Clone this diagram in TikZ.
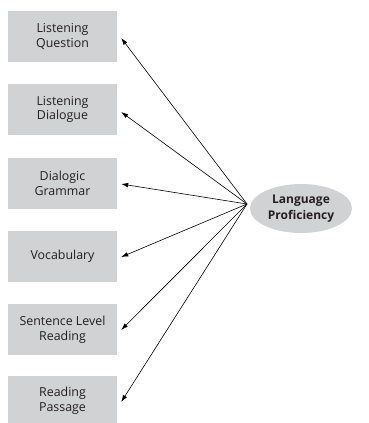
\documentclass[tikz,border=0pt]{standalone}
\usepackage{fontspec}
\setmainfont{Open Sans}
\usetikzlibrary{shapes.geometric,arrows.meta}
\definecolor{boxgray}{HTML}{D1D2D4}
\definecolor{txt}{HTML}{231F20}
\tikzset{
  indicator/.style={rectangle, fill=boxgray, minimum width=109pt, minimum height=51pt,
    inner sep=0pt, align=center, font=\fontsize{12.4}{14.8}\selectfont, text=txt},
  factor/.style={ellipse, fill=boxgray, minimum width=102pt, minimum height=49pt,
    inner sep=0pt, align=center, font=\bfseries\fontsize{12}{15.5}\selectfont, text=txt},
  loading/.style={-{Latex[length=7pt,width=4.5pt]}, line width=0.6pt, black}
}
\begin{document}
\begin{tikzpicture}[x=1pt,y=1pt]
\useasboundingbox (0,0) rectangle (368,-423);
\node[indicator] (lq) at (62.5,-36.5) {Listening\\Question};
\node[indicator] (ld) at (62.5,-109.5) {Listening\\Dialogue};
\node[indicator] (dg) at (62.5,-183.5) {Dialogic\\Grammar};
\node[indicator] (vo) at (62.5,-256.5) {Vocabulary};
\node[indicator] (sl) at (62.5,-329.5) {Sentence Level\\Reading};
\node[indicator] (rp) at (62.5,-401) {Reading\\Passage};
\node[factor] (lp) at (301,-208.5) {Language\\Proficiency};
\coordinate (src) at (247,-204);
\foreach \t/\y in {lq/-38, ld/-112, dg/-184, vo/-257, sl/-330, rp/-402}
  \draw[loading] (src) -- ([xshift=4pt]\t.east |- 0,\y);
\end{tikzpicture}
\end{document}
